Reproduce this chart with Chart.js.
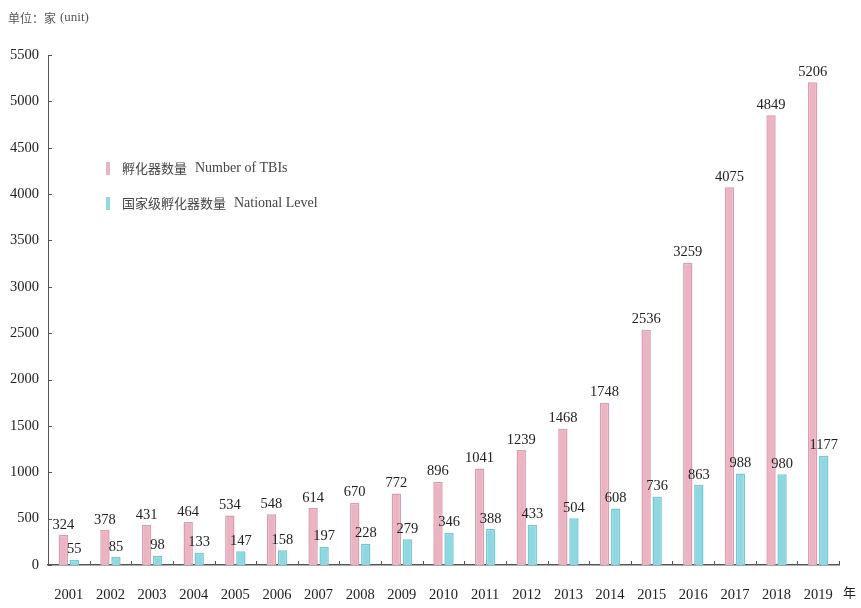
<!DOCTYPE html>
<html>
<head>
<meta charset="utf-8">
<script src="https://cdn.jsdelivr.net/npm/chart.js@4.4.1/dist/chart.umd.min.js"></script>
<style>
  html, body { margin: 0; padding: 0; background: #fff; }
  #wrap { width: 861px; height: 608px; position: relative; }
</style>
</head>
<body>
<div id="wrap"><canvas id="tbi"></canvas></div>
<script>
"use strict";

// years on the x axis
var years = ["2001", "2002", "2003", "2004", "2005", "2006", "2007", "2008", "2009", "2010",
             "2011", "2012", "2013", "2014", "2015", "2016", "2017", "2018", "2019"];
// incubators in total
var tbiCount = [324, 378, 431, 464, 534, 548, 614, 670, 772, 896,
                1041, 1239, 1468, 1748, 2536, 3259, 4075, 4849, 5206];
// of which national level
var nationalCount = [55, 85, 98, 133, 147, 158, 197, 228, 279, 346,
                     388, 433, 504, 608, 736, 863, 988, 980, 1177];
var yTicks = [0, 500, 1000, 1500, 2000, 2500, 3000, 3500, 4000, 4500, 5000, 5500];

var serif = '"Liberation Serif", "Times New Roman", serif';
var cjk = '"Noto Sans CJK SC", sans-serif';
var textColor = "#222";
var axisColor = "#555";

// numbers above each bar
var valueLabels = {
    id: "valueLabels",
    afterDatasetsDraw: function (chart) {
        var ctx = chart.ctx;
        ctx.save();
        ctx.font = "14.5px " + serif;
        ctx.fillStyle = textColor;
        ctx.textAlign = "center";
        ctx.textBaseline = "bottom";
        chart.data.datasets.forEach(function (ds, i) {
            chart.getDatasetMeta(i).data.forEach(function (bar, j) {
                ctx.fillText(String(ds.data[j]), bar.x, bar.y - 3);
            });
        });
        ctx.restore();
    }
};

// short inward tick marks, unit caption, legend and the year mark
var decorations = {
    id: "decorations",
    afterDraw: function (chart) {
        var ctx = chart.ctx,
            area = chart.chartArea,
            x = chart.scales.x,
            y = chart.scales.y;

        ctx.save();
        ctx.strokeStyle = axisColor;
        ctx.lineWidth = 1;
        ctx.beginPath();
        y.ticks.forEach(function (t) {
            var py = Math.round(y.getPixelForValue(t.value)) + 0.5;
            ctx.moveTo(area.left, py);
            ctx.lineTo(area.left + 4, py);
        });
        for (var k = 0; k <= years.length; k++) {
            var px = Math.round(x.getPixelForValue(k - 0.5)) + 0.5;
            ctx.moveTo(px, area.bottom);
            ctx.lineTo(px, area.bottom - 4);
        }
        ctx.stroke();

        // unit caption
        ctx.fillStyle = "#555";
        ctx.textBaseline = "middle";
        ctx.textAlign = "left";
        ctx.font = "12px " + cjk;
        ctx.fillText("单位：家", 8, 18);
        var w = ctx.measureText("单位：家").width;
        ctx.font = "13px " + serif;
        ctx.fillText("(unit)", 8 + w + 4, 18);

        // legend
        var rows = [
            { zh: "孵化器数量", en: "Number of TBIs", y: 168 },
            { zh: "国家级孵化器数量", en: "National Level", y: 203 }
        ];
        rows.forEach(function (row, i) {
            var ds = chart.data.datasets[i];
            ctx.fillStyle = ds.backgroundColor;
            ctx.fillRect(106, row.y - 6, 4, 13);
            ctx.fillStyle = "#444";
            ctx.font = "13px " + cjk;
            ctx.fillText(row.zh, 122, row.y);
            var zw = ctx.measureText(row.zh).width;
            ctx.font = "14px " + serif;
            ctx.fillText(row.en, 122 + zw + 8, row.y);
        });

        // year mark after the last label
        ctx.fillStyle = textColor;
        ctx.font = "13px " + cjk;
        ctx.fillText("年", 843, 592);
        ctx.restore();
    }
};

new Chart(document.getElementById("tbi"), {
    type: "bar",
    data: {
        labels: years,
        datasets: [
            {
                label: "孵化器数量 Number of TBIs",
                data: tbiCount,
                backgroundColor: "#eab4c3",
                borderColor: "#de9cb0",
                borderWidth: 1.5,
                borderSkipped: "bottom"
            },
            {
                label: "国家级孵化器数量 National Level",
                data: nationalCount,
                backgroundColor: "#8fd8e2",
                borderColor: "#72cad7",
                borderWidth: 1.5,
                borderSkipped: "bottom"
            }
        ]
    },
    options: {
        responsive: true,
        maintainAspectRatio: false,
        animation: false,
        datasets: {
            bar: { categoryPercentage: 0.53, barPercentage: 0.85 }
        },
        layout: { padding: { top: 55, right: 22, bottom: 0, left: 0 } },
        plugins: {
            legend: { display: false },
            title: { display: false },
            tooltip: { enabled: false }
        },
        scales: {
            x: {
                grid: { display: false, drawTicks: false },
                border: { display: true, color: axisColor, width: 1.5 },
                ticks: {
                    color: textColor,
                    font: { family: serif, size: 14.5 },
                    padding: 21,
                    maxRotation: 0,
                    autoSkip: false
                },
                afterFit: function (scale) { scale.height = 43; }
            },
            y: {
                min: 0,
                max: 5500,
                afterBuildTicks: function (scale) {
                    scale.ticks = yTicks.map(function (v) { return { value: v }; });
                },
                grid: { display: false, drawTicks: false },
                border: { display: true, color: axisColor, width: 1 },
                ticks: {
                    color: textColor,
                    font: { family: serif, size: 14.5 },
                    padding: 9,
                    callback: function (v) { return String(v); }
                },
                afterFit: function (scale) { scale.width = 48; }
            }
        }
    },
    plugins: [valueLabels, decorations]
});
</script>
</body>
</html>
